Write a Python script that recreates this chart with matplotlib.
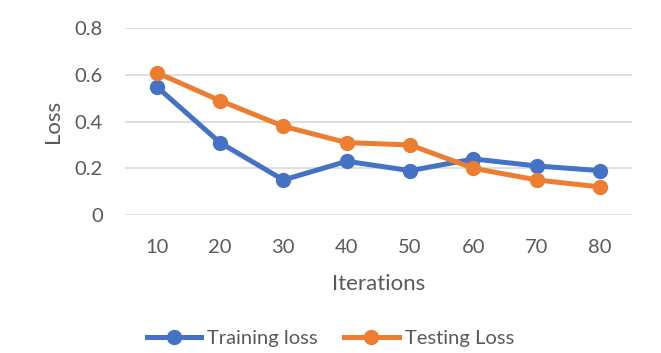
import matplotlib
matplotlib.use("Agg")
import matplotlib.pyplot as plt
import numpy as np

iterations = ['10', '20', '30', '40', '50', '60', '70', '80']
training_loss = [0.55, 0.31, 0.15, 0.23, 0.19, 0.24, 0.21, 0.19]
testing_loss = [0.61, 0.49, 0.38, 0.31, 0.30, 0.20, 0.15, 0.12]
y_ticks = [0, 0.2, 0.4, 0.6, 0.8]
y_tick_labels = ['0', '0.2', '0.4', '0.6', '0.8']

plt.rcParams['font.family'] = ['Lato', 'DejaVu Sans']
grey = '#595959'

fig = plt.figure(figsize=(6.61, 3.53), dpi=100)
ax = fig.add_axes([0.189, 0.391, 0.767, 0.529])

x = np.arange(len(iterations))
ax.plot(x, training_loss, color='#4472C4', lw=3.6, marker='o', ms=10,
        label='Training loss', zorder=3)
ax.plot(x, testing_loss, color='#ED7D31', lw=3.6, marker='o', ms=10,
        label='Testing Loss', zorder=3)

ax.set_xlim(-0.5, len(iterations) - 0.5)
ax.set_ylim(0, 0.8)
ax.set_xticks(x)
ax.set_xticklabels(iterations)
ax.set_yticks(y_ticks)
ax.set_yticklabels(y_tick_labels)
ax.grid(axis='y', color='#D9D9D9', lw=1.2)
ax.set_axisbelow(True)
for s in ax.spines.values():
    s.set_visible(False)
ax.tick_params(axis='both', length=0, labelsize=14.5, labelcolor=grey)
ax.tick_params(axis='y', pad=16)
ax.tick_params(axis='x', pad=17)

ax.set_xlabel('Iterations', fontsize=16, color=grey, labelpad=13)
ax.set_ylabel('Loss', fontsize=16, color=grey, labelpad=8)

fig.legend(loc='lower center', bbox_to_anchor=(0.5, -0.035), ncol=2,
           frameon=False, fontsize=14.5, labelcolor=grey, handlelength=2.7,
           columnspacing=1.3, handletextpad=0.3)

fig.savefig('out.png', dpi=100)
